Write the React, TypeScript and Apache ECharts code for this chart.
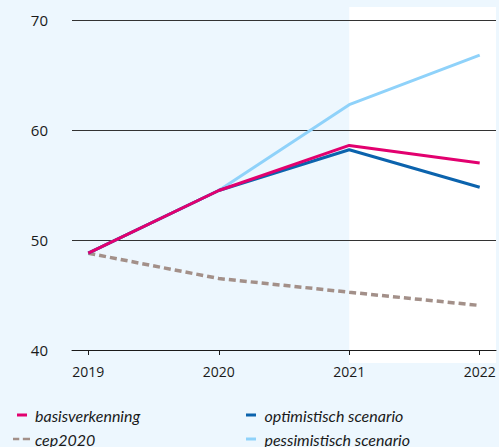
import React, { useEffect, useRef } from "react";
import * as echarts from "echarts";

const years = [2019, 2020, 2021, 2022];
const basisverkenning = [48.8, 54.5, 58.6, 57.0];
const optimistisch = [48.8, 54.5, 58.2, 54.8];
const pessimistisch = [48.8, 54.5, 62.3, 66.8];
const cep2020 = [48.8, 46.5, 45.25, 44.05];
const yTicks = [40, 50, 60, 70];

const seriesNames = [
  "basisverkenning",
  "optimistisch scenario",
  "cep2020",
  "pessimistisch scenario",
];

const COLORS = {
  basis: "#e2006f",
  opt: "#0b63ad",
  pes: "#8fd2fa",
  cep: "#a39089",
};

const toPairs = (vals: number[]) => years.map((y, i) => [y, vals[i]]);

export default function App() {
  const ref = useRef<HTMLDivElement>(null);
  useEffect(() => {
    if (!ref.current) return;
    const chart = echarts.init(ref.current, null, { renderer: "svg" });
    const solidIcon = "path://M0,0H10V3H0Z";
    const dashedIcon = "path://M0,0H7V3H0Z M11,0H19V3H11Z";
    const font = "'Open Sans', sans-serif";
    const mkLegend = (
      name: string,
      icon: string,
      left: number,
      top: number,
      itemWidth: number,
      textPad: number
    ) => ({
      orient: "horizontal",
      left,
      top,
      padding: 0,
      itemWidth,
      itemHeight: 3,
      symbolKeepAspect: true,
      itemStyle: { borderWidth: 0 },
      textStyle: {
        fontFamily: "Lato, sans-serif",
        fontStyle: "italic",
        fontSize: 16,
        color: "#1a1a1a",
        lineHeight: 16,
        padding: [0, 0, 0, textPad],
      },
      data: [{ name, icon }],
    });
    chart.setOption({
      animation: false,
      backgroundColor: "#edf7fe",
      grid: { left: 72, right: 3, top: 20, bottom: 97 },
      xAxis: {
        type: "value",
        min: 2018.875,
        max: 2022.125,
        splitLine: { show: false },
        axisLine: { show: true, lineStyle: { color: "#1a1a1a", width: 1 } },
        axisTick: {
          show: true,
          customValues: years,
          length: 5,
          lineStyle: { color: "#1a1a1a" },
        },
        axisLabel: {
          customValues: years,
          formatter: (v: number) => String(v),
          margin: 14,
          fontFamily: font,
          fontSize: 14,
          color: "#1a1a1a",
        },
      },
      yAxis: {
        type: "value",
        min: 40,
        max: 70,
        interval: 10,
        axisLine: { show: false },
        axisTick: { show: false },
        axisLabel: {
          margin: 24,
          fontFamily: font,
          fontSize: 15,
          color: "#1a1a1a",
          customValues: yTicks,
        },
        splitLine: { show: true, lineStyle: { color: "#333", width: 1 } },
      },
      legend: [
        mkLegend(seriesNames[0], solidIcon, 17, 407, 10, 3),
        mkLegend(seriesNames[2], dashedIcon, 13, 431, 17, 0),
        mkLegend(seriesNames[1], solidIcon, 246, 407, 11, 3),
        mkLegend(seriesNames[3], solidIcon, 246, 431, 11, 3),
      ],
      series: [
        {
          name: seriesNames[2],
          type: "line",
          data: toPairs(cep2020),
          symbol: "none",
          color: COLORS.cep,
          lineStyle: { width: 3.5, type: [7, 4], color: COLORS.cep },
          z: 2,
        },
        {
          name: seriesNames[3],
          type: "line",
          data: toPairs(pessimistisch),
          symbol: "none",
          color: COLORS.pes,
          lineStyle: { width: 3, color: COLORS.pes },
          z: 3,
        },
        {
          name: seriesNames[1],
          type: "line",
          data: toPairs(optimistisch),
          symbol: "none",
          color: COLORS.opt,
          lineStyle: { width: 3, color: COLORS.opt },
          z: 4,
        },
        {
          name: seriesNames[0],
          type: "line",
          data: toPairs(basisverkenning),
          symbol: "none",
          color: COLORS.basis,
          lineStyle: { width: 3, color: COLORS.basis },
          z: 5,
        },
      ],
    });
    const x0 = chart.convertToPixel({ xAxisIndex: 0 }, years[2]) as number;
    chart.setOption({
      graphic: [
        {
          type: "rect",
          z: -10,
          silent: true,
          shape: { x: x0, y: 7, width: 496 - x0, height: 356 },
          style: { fill: "#ffffff" },
        },
      ],
    });
    return () => chart.dispose();
  }, []);
  return (
    <div
      ref={ref}
      style={{ position: "fixed", left: 0, top: 0, width: 499, height: 447 }}
    />
  );
}
